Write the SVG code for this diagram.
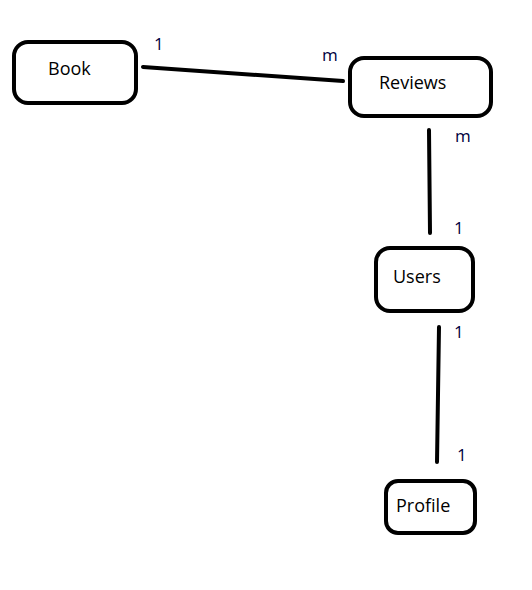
<svg xmlns="http://www.w3.org/2000/svg" width="532" height="590" viewBox="0 0 532 590">
<style>
.node{fill:#fff;stroke:#000;stroke-width:4}
.lbl{font-family:"Open Sans","Noto Sans",sans-serif;font-size:18px;fill:#000}
.card{font-family:"Open Sans","Noto Sans",sans-serif;font-size:17px;fill:#000040}
.conn{stroke:#000;stroke-width:4;stroke-linecap:round;fill:none}
</style>
<rect width="532" height="590" fill="#fff"/>
<g id="connectors">
<line class="conn" x1="143" y1="67" x2="343" y2="81"/>
<line class="conn" x1="429" y1="130" x2="430" y2="233"/>
<line class="conn" x1="439" y1="327" x2="437" y2="462"/>
</g>
<g id="book"><rect class="node" x="14" y="42" width="122" height="61" rx="14"/><text class="lbl" x="48" y="75">Book</text></g>
<g id="reviews"><rect class="node" x="350" y="58" width="141" height="58" rx="14"/><text class="lbl" x="379" y="89">Reviews</text></g>
<g id="users"><rect class="node" x="376" y="248" width="97" height="63" rx="14"/><text class="lbl" x="393" y="283">Users</text></g>
<g id="profile"><rect class="node" x="386" y="481" width="89" height="52" rx="12"/><text class="lbl" x="396" y="512">Profile</text></g>
<g id="labels">
<text class="card" x="154" y="50">1</text>
<text class="card" x="322" y="61">m</text>
<text class="card" x="455" y="142">m</text>
<text class="card" x="454" y="234">1</text>
<text class="card" x="454" y="338">1</text>
<text class="card" x="457" y="461">1</text>
</g>
</svg>
